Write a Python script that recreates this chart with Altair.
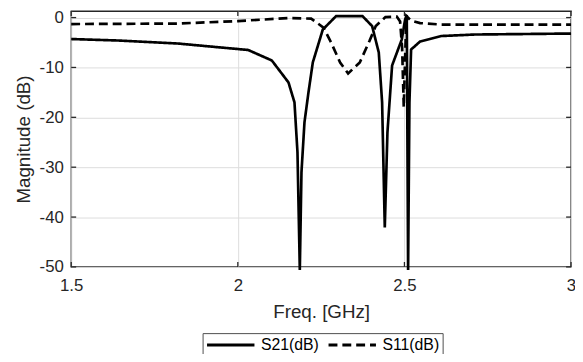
import altair as alt
import pandas as pd

# ---- data ----
freq_s21 = [1.500, 1.642, 1.820, 2.031, 2.102, 2.152, 2.170, 2.179, 2.186, 2.191,
            2.200, 2.212, 2.225, 2.255, 2.295, 2.374, 2.403, 2.423, 2.433, 2.441,
            2.449, 2.463, 2.492, 2.502, 2.507, 2.511, 2.515, 2.520, 2.547, 2.611,
            2.710, 3.000]
mag_s21 = [-4.3, -4.6, -5.2, -6.5, -8.6, -13.0, -17.0, -27.0, -50.6, -31.0,
           -21.0, -15.0, -9.0, -2.4, 0.3, 0.3, -1.7, -7.0, -17.0, -42.1,
           -23.0, -9.6, -4.4, -0.4, 0.5, -50.6, -17.0, -6.4, -4.8, -3.7,
           -3.4, -3.2]

freq_s11 = [1.500, 1.820, 2.000, 2.150, 2.220, 2.257, 2.280, 2.307, 2.331, 2.366,
            2.395, 2.414, 2.443, 2.477, 2.487, 2.493, 2.498, 2.502, 2.506, 2.520,
            2.547, 2.611, 3.000]
mag_s11 = [-1.3, -1.2, -0.7, -0.1, -0.2, -2.0, -5.0, -9.0, -11.2, -9.0,
           -4.7, -1.7, 0.1, 0.2, -0.8, -6.0, -18.0, -8.0, 0.3, -0.6,
           -1.1, -1.4, -1.4]

series_names = ["S21(dB)", "S11(dB)"]
x_ticks = [1.5, 2, 2.5, 3]
y_ticks = [0, -10, -20, -30, -40, -50]

# ---- build table ----
df = pd.concat([
    pd.DataFrame({"freq": freq_s21, "mag": mag_s21, "series": series_names[0],
                  "idx": range(len(freq_s21))}),
    pd.DataFrame({"freq": freq_s11, "mag": mag_s11, "series": series_names[1],
                  "idx": range(len(freq_s11))}),
])

W, H = 506, 259
FONT = "Liberation Sans"
xs = alt.Scale(domain=[1.5, 3], nice=False, zero=False)
ys = alt.Scale(domain=[-50, 1.3], nice=False, zero=False)
x_axis = alt.Axis(values=x_ticks, title="Freq. [GHz]", labelPadding=11,
                  titlePadding=9, labelExpr="'' + datum.value",
                  labelFlush=False, labelOverlap=False)
y_axis = alt.Axis(values=y_ticks, title="Magnitude (dB)", labelPadding=8,
                  titlePadding=6, labelExpr="'' + datum.value",
                  labelFlush=False, labelOverlap=False)

lines = alt.Chart(df).mark_line(color="black", strokeWidth=2.7).encode(
    x=alt.X("freq:Q", scale=xs, axis=x_axis),
    y=alt.Y("mag:Q", scale=ys, axis=y_axis),
    strokeDash=alt.StrokeDash(
        "series:N",
        scale=alt.Scale(domain=series_names, range=[[1, 0], [9, 5]]),
        legend=alt.Legend(title=None, orient="none", legendX=133, legendY=326,
                          direction="horizontal", strokeColor="#4d4d4d",
                          fillColor="white", padding=3, clipHeight=18,
                          symbolType="stroke", symbolSize=2304,
                          symbolStrokeWidth=3, symbolStrokeColor="black",
                          labelFont=FONT, labelFontSize=16, labelColor="black",
                          columnPadding=8, labelOffset=5),
    ),
    order="idx:Q",
)

tx = pd.DataFrame({"v": x_ticks})
ty = pd.DataFrame({"v": y_ticks})
tick_col = "#262626"
bottom_t = alt.Chart(tx).mark_rule(color=tick_col, strokeWidth=1.3).encode(
    x=alt.X("v:Q", scale=xs, axis=x_axis), y=alt.value(H), y2=alt.value(H - 5))
top_t = alt.Chart(tx).mark_rule(color=tick_col, strokeWidth=1.3).encode(
    x=alt.X("v:Q", scale=xs, axis=x_axis), y=alt.value(0), y2=alt.value(5))
left_t = alt.Chart(ty).mark_rule(color=tick_col, strokeWidth=1.3).encode(
    y=alt.Y("v:Q", scale=ys, axis=y_axis), x=alt.value(0), x2=alt.value(5))
right_t = alt.Chart(ty).mark_rule(color=tick_col, strokeWidth=1.3).encode(
    y=alt.Y("v:Q", scale=ys, axis=y_axis), x=alt.value(W), x2=alt.value(W - 5))

chart = alt.layer(lines, bottom_t, top_t, left_t, right_t).properties(
    width=W, height=H,
    autosize=alt.AutoSizeParams(type="none"),
    padding={"left": 64, "top": 1, "right": 4, "bottom": 86},
).configure_view(
    stroke="#262626", strokeWidth=1.4
).configure_axis(
    domain=False, ticks=False, tickSize=0, grid=True, gridColor="#dcdcdc",
    gridWidth=1, labelFont=FONT, labelFontSize=17, labelColor="#262626",
    titleFont=FONT, titleFontSize=19, titleFontWeight="normal",
    titleColor="#262626",
)

chart.save("out.html", embed_options={"renderer": "svg", "actions": False})
